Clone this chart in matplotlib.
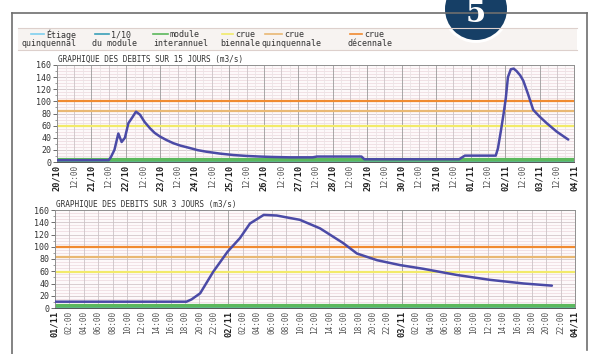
import matplotlib
matplotlib.use("Agg")
import matplotlib.pyplot as plt
from matplotlib.patches import Circle, Rectangle
from matplotlib.ticker import MultipleLocator

# ---------------- data ----------------
# thresholds (m3/s)
threshold_names = ["Étiage\nquinquennal", "1/10\ndu module", "module\ninterannuel",
                   "crue\nbiennale", "crue\nquinquennale", "crue\ndécennale"]
threshold_values = [0.5, 0.4, 3.6, 59, 84, 100]
threshold_colors = ["#7fd0ef", "#3a9fb8", "#5cb85c", "#f2ea6a", "#e9b873", "#f08a30"]

# 15-day chart: hours since 20/10 00:00
top_hours = [0, 24, 36, 37.5, 40, 42.7, 45, 47.3, 49.7, 52, 55, 57.8, 61, 64.8, 68,
             71.7, 76.4, 81, 86, 92.6, 98, 104, 113, 122.8, 132, 141, 150, 162, 178,
             181, 212, 214, 240, 260, 280, 284, 296, 305.5, 307, 309, 311, 312.5, 314,
             316, 318, 320, 322.5, 324.7, 328, 331.6, 336, 341, 348, 356]
top_flow = [3, 3, 3, 8, 20, 47, 33, 40, 64, 72, 83, 78, 66, 55.5, 48,
            42, 36, 31, 27, 23, 19.5, 17, 14, 11.5, 10, 9, 8.3, 7.7, 7.7,
            9, 9, 4.5, 4.5, 4.5, 4.5, 10.5, 10.5, 10.5, 22, 50, 80, 105, 140,
            153, 154, 150, 143, 134, 112, 86, 75, 64, 50, 37]
top_days = ["20/10", "21/10", "22/10", "23/10", "24/10", "25/10", "26/10", "27/10",
            "28/10", "29/10", "30/10", "31/10", "01/11", "02/11", "03/11", "04/11"]
top_half = "12:00"

# 3-day chart: hours since 01/11 00:00
bot_hours = [0, 18.2, 18.9, 20.1, 21.9, 23.9, 25.6, 27, 28.9, 30.7, 32.5, 33.9, 36.7,
             39.9, 41.8, 44.6, 47.8, 51, 55.6, 60.2, 64.9, 68.8]
bot_flow = [10.3, 10.3, 14, 24, 59, 92, 114, 138, 152, 151, 147, 144, 130,
            106, 89, 78, 70, 64, 54, 46, 40, 36.5]
bot_days = ["01/11", "02/11", "03/11", "04/11"]
bot_hours_lbl = ["02:00", "04:00", "06:00", "08:00", "10:00", "12:00", "14:00",
                 "16:00", "18:00", "20:00", "22:00"]

titles = ["GRAPHIQUE DES DEBITS SUR 15 JOURS (m3/s)",
          "GRAPHIQUE DES DEBITS SUR 3 JOURS (m3/s)"]
y_ticks = [0, 20, 40, 60, 80, 100, 120, 140, 160]
badge = "5"

# ---------------- figure ----------------
W, H = 592, 354
fig = plt.figure(figsize=(W / 100, H / 100), dpi=100)
fig.patch.set_facecolor("white")
MONO = "DejaVu Sans Mono"
SERIES = "#4b4aa6"


def px_axes(x0, y0, x1, y1):
    return fig.add_axes([x0 / W, 1 - y1 / H, (x1 - x0) / W, (y1 - y0) / H])


def style_chart(ax, xmax, step_minor, step_major, labels, day_every, title):
    ax.set_facecolor("#fdf9fa")
    ax.set_xlim(0, xmax)
    ax.set_ylim(0, 160)
    # horizontal grid
    for v in range(5, 160, 5):
        ax.axhline(v, color="#efdde2" if v % 20 else "#d3c6ca", lw=0.6, zorder=1)
    # vertical grid
    t = step_minor
    while t < xmax:
        if abs(t / day_every - round(t / day_every)) < 1e-6:
            c = "#9a9a9a"
        elif abs(t / step_major - round(t / step_major)) < 1e-6:
            c = "#cbc3c6"
        else:
            c = "#ece4e6"
        ax.axvline(t, color=c, lw=0.6, zorder=1)
        t += step_minor
    # thresholds
    lw_map = [1.0, 1.0, 3.0, 1.6, 1.6, 1.6]
    order = [3, 4, 5, 2, 1, 0]
    for i in order:
        ax.axhline(threshold_values[i], color=threshold_colors[i], lw=lw_map[i], zorder=2)
    ticks = [i * step_major for i in range(len(labels))]
    ax.set_xticks(ticks)
    ax.set_xticklabels(labels, rotation=90, family=MONO)
    for lab in ax.get_xticklabels():
        if "/" in lab.get_text():
            lab.set_fontweight("bold")
            lab.set_fontsize(6.2)
            lab.set_color("#222222")
        else:
            lab.set_fontsize(5.6)
            lab.set_color("#555555")
    ax.set_yticks(y_ticks)
    ax.set_yticklabels([str(v) for v in y_ticks], family=MONO, fontsize=6, color="#333333")
    ax.yaxis.set_minor_locator(MultipleLocator(10))
    ax.tick_params(axis="y", which="major", length=3, width=0.6, color="#555555", pad=1)
    ax.tick_params(axis="y", which="minor", length=1.5, width=0.5, color="#777777")
    ax.tick_params(axis="x", length=0, pad=2)
    for s in ax.spines.values():
        s.set_color("#8f8f8f")
        s.set_linewidth(0.7)
    ax.spines["bottom"].set_color("#555555")
    ax.text(0.002, 1.015, title, transform=ax.transAxes, family=MONO, fontsize=5.6,
            color="#333333", ha="left", va="bottom")


# top chart
ax1 = px_axes(57, 65, 574, 162)
top_labels = []
for i, d in enumerate(top_days):
    top_labels.append(d)
    if i < len(top_days) - 1:
        top_labels.append(top_half)
style_chart(ax1, 360, 6, 12, top_labels, 24, titles[0])
ax1.plot(top_hours, top_flow, color=SERIES, lw=1.8, zorder=5, solid_capstyle="round")

# bottom chart
ax2 = px_axes(55, 210, 575, 308)
bot_labels = []
for i, d in enumerate(bot_days):
    bot_labels.append(d)
    if i < len(bot_days) - 1:
        bot_labels.extend(bot_hours_lbl)
style_chart(ax2, 72, 2, 2, bot_labels, 24, titles[1])
ax2.plot(bot_hours, bot_flow, color=SERIES, lw=1.8, zorder=5, solid_capstyle="round")

# overlay: frame, legend strip, badge
ov = fig.add_axes([0, 0, 1, 1], zorder=10)
ov.set_xlim(0, W)
ov.set_ylim(H, 0)
ov.axis("off")
ov.patch.set_alpha(0)

frame_c = "#6e6e6e"
ov.plot([12, 12], [13, H], color=frame_c, lw=1.2)
ov.plot([12, 587], [13, 13], color=frame_c, lw=1.2)
ov.plot([587, 587], [13, 350], color=frame_c, lw=1.2)

ov.add_patch(Rectangle((18, 28), 559, 22, facecolor="#f7f3f1", edgecolor="none"))
ov.plot([18, 577], [28, 28], color="#ddd0cc", lw=0.8)
ov.plot([18, 577], [50, 50], color="#ddd0cc", lw=0.8)

leg_x = [(22, 31, 46), (92, 95, 111), (153, 153, 170), (220, 222, 235), (262, 265, 284), (348, 350, 364)]
for (x_left, l0, l1), name, col in zip(leg_x, threshold_names, threshold_colors):
    first, second = name.split("\n")
    ov.plot([l0, l1 - 2], [34, 34], color=col, lw=1.2)
    ov.text(l1, 34.5, first, family=MONO, fontsize=6, color="#333333", ha="left", va="center")
    ov.text(x_left, 43, second, family=MONO, fontsize=6, color="#333333", ha="left", va="center")

ov.add_patch(Circle((476, 9), 34, facecolor="white", edgecolor="none"))
ov.add_patch(Circle((476, 9), 31, facecolor="#163f66", edgecolor="none"))
ov.text(476, 14, badge, family="DejaVu Serif", fontweight="bold", fontsize=21,
        color="white", ha="center", va="center")

fig.savefig("out.png", dpi=100, facecolor="white")
